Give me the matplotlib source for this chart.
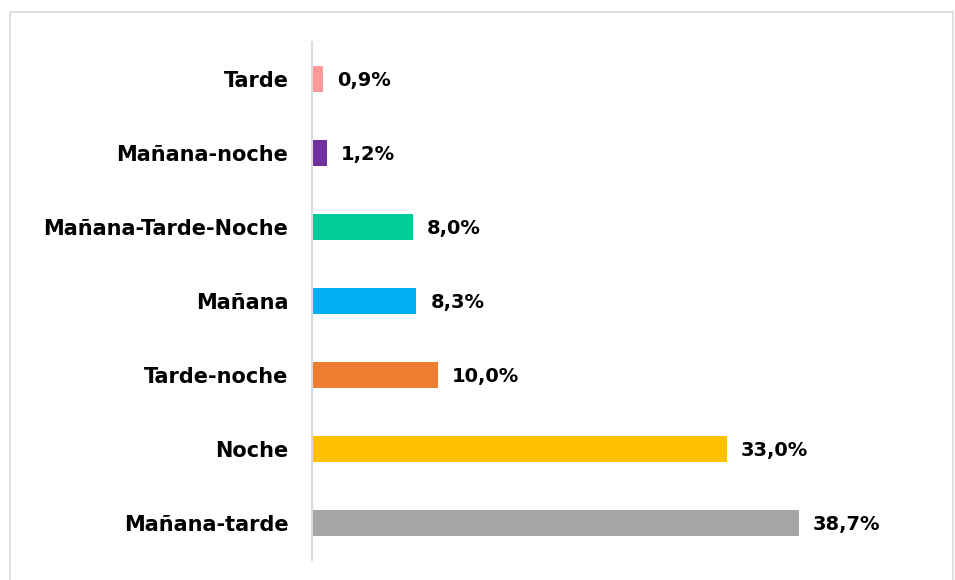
import matplotlib.pyplot as plt
from matplotlib.patches import Rectangle

# data, bottom to top as drawn
categories = ["Mañana-tarde", "Noche", "Tarde-noche", "Mañana",
              "Mañana-Tarde-Noche", "Mañana-noche", "Tarde"]
values = [38.7, 33.0, 10.0, 8.3, 8.0, 1.2, 0.9]
colors = ["#A5A5A5", "#FFC000", "#ED7D31", "#00B0F0",
          "#00CC99", "#7030A0", "#FF9999"]

W, H = 955, 580
fig = plt.figure(figsize=(W / 100, H / 100), dpi=100)

# outer light frame (runs off the bottom edge like the original)
fig.patches.append(Rectangle((10 / W, -5 / H), (W - 12) / W, (H - 7) / H,
                             transform=fig.transFigure, fill=False,
                             edgecolor="#D9D9D9", linewidth=1.2))

ax = fig.add_axes([312 / W, 20 / H, 600 / W, 518 / H])
ypos = list(range(len(categories)))
ax.barh(ypos, values, height=0.35, color=colors)
ax.set_xlim(0, 600 / 12.58)
ax.set_ylim(-0.5, 6.5)

for y, v in zip(ypos, values):
    ax.annotate(f"{v:.1f}%".replace(".", ","), (v, y), xytext=(10, -1),
                textcoords="offset points", va="center", ha="left",
                fontsize=14, fontweight="bold", color="black")

ax.set_yticks(ypos)
ax.set_yticklabels(categories, fontsize=15, fontweight="bold")
ax.tick_params(axis="y", length=0, pad=17)
ax.set_xticks([])
for s in ["top", "right", "bottom"]:
    ax.spines[s].set_visible(False)
ax.spines["left"].set_color("#D9D9D9")
ax.spines["left"].set_linewidth(1.5)

fig.savefig("out.png", dpi=100)
